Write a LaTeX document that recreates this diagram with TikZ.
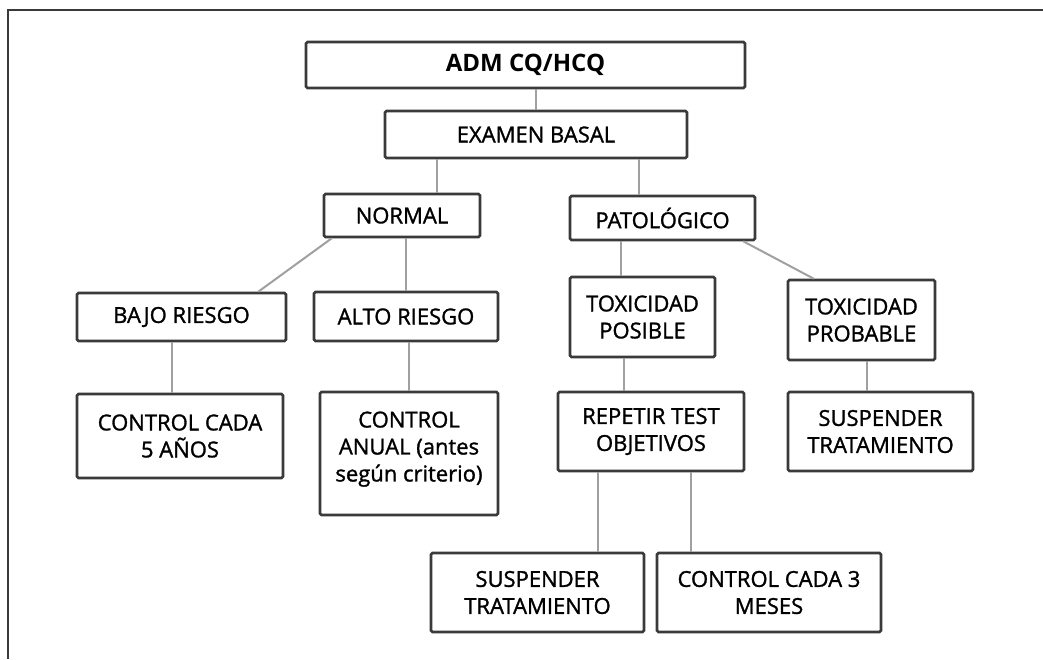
\documentclass[tikz,border=0pt]{standalone}
\usepackage{fontspec}
\setmainfont{Open Sans}[UprightFeatures={FakeBold=1.3}]
\begin{document}
\begin{tikzpicture}[x=1pt,y=-1pt,
  box/.style={draw=boxgray, line width=2.6pt, rounded corners=1.5pt, align=center, inner sep=0pt,
    text=black, font=\fontsize{22}{27}\selectfont},
  conn/.style={draw=conngray, line width=2pt},
  frame/.style={draw=boxgray, line width=2.6pt}]
\definecolor{boxgray}{HTML}{3A3A3A}
\definecolor{conngray}{HTML}{A0A0A0}
\useasboundingbox (0,0) rectangle (1043,659);
\coordinate (fb) at (8,659);
\coordinate (ftl) at (8,10);
\coordinate (fr) at (1050,10);
\draw[frame] (fb) -- (ftl) -- (fr);

\node[box, minimum width=439, minimum height=46, font=\fontsize{24}{27}\selectfont\bfseries] (adm) at (525.5,65) {ADM CQ/HCQ};
\node[box, minimum width=302, minimum height=47] (exam) at (536,134.5) {EXAMEN BASAL};
\node[box, minimum width=156, minimum height=43] (normal) at (402,215.5) {NORMAL};
\node[box, minimum width=185, minimum height=44] (pato) at (662.5,218) {PATOLÓGICO};
\node[box, minimum width=209, minimum height=48] (bajo) at (181.5,317) {BAJO RIESGO};
\node[box, minimum width=184, minimum height=49] (alto) at (406,316.5) {ALTO RIESGO};
\node[box, minimum width=145, minimum height=80] (toxpos) at (642.5,317) {TOXICIDAD\\POSIBLE};
\node[box, minimum width=147, minimum height=80] (toxprob) at (861.5,320) {TOXICIDAD\\PROBABLE};
\node[box, minimum width=206, minimum height=84] (c5) at (180,436) {CONTROL CADA\\5 AÑOS};
\node[box, minimum width=178, minimum height=123] (canual) at (409,453.5) {CONTROL\\ANUAL (antes\\según criterio)\\[-13pt]\mbox{}};
\node[box, minimum width=186, minimum height=79] (repetir) at (651,431.5) {REPETIR TEST\\OBJETIVOS};
\node[box, minimum width=185, minimum height=79] (susp1) at (880.5,431.5) {SUSPENDER\\TRATAMIENTO};
\node[box, minimum width=213, minimum height=79] (susp2) at (537.5,592.5) {SUSPENDER\\TRATAMIENTO};
\node[box, minimum width=224, minimum height=79] (c3) at (769,592.5) {CONTROL CADA 3\\MESES};

\draw[conn] (exam.north) -- (exam.north |- adm.south);
\draw[conn] ([xshift=53]exam.south west) -- ([xshift=53]exam.south west |- normal.north);
\draw[conn] ([xshift=-49]exam.south east) -- ([xshift=-49]exam.south east |- pato.north);
\draw[conn] ([xshift=9]normal.south west) -- ([xshift=-29]bajo.north east);
\draw[conn] (alto.north) -- (alto.north |- normal.south);
\draw[conn] ([xshift=52]pato.south west) -- ([xshift=52]pato.south west |- toxpos.north);
\draw[conn] ([xshift=-13]pato.south east) -- ([xshift=27]toxprob.north west);
\draw[conn] ([xshift=96]c5.north west) -- ([xshift=96]c5.north west |- bajo.south);
\draw[conn] (canual.north) -- (canual.north |- alto.south);
\draw[conn] ([xshift=55]toxpos.south west) -- ([xshift=55]toxpos.south west |- repetir.north);
\draw[conn] ([xshift=80]toxprob.south west) -- ([xshift=80]toxprob.south west |- susp1.north);
\draw[conn] ([xshift=41]repetir.south west) -- ([xshift=41]repetir.south west |- susp2.north);
\draw[conn] ([xshift=134]repetir.south west) -- ([xshift=134]repetir.south west |- c3.north);
\end{tikzpicture}
\end{document}
